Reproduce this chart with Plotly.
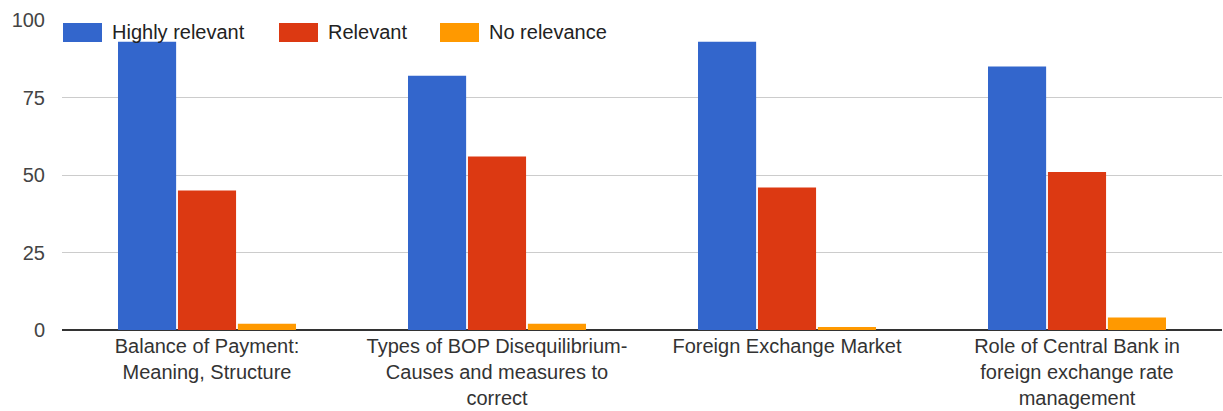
import plotly.graph_objects as go

# Survey topics and response counts
topics = [
    "Balance of Payment:<br>Meaning, Structure",
    "Types of BOP Disequilibrium-<br>Causes and measures to<br>correct",
    "Foreign Exchange Market",
    "Role of Central Bank in<br>foreign exchange rate<br>management",
]
highly_relevant = [93, 82, 93, 85]
relevant = [45, 56, 46, 51]
no_relevance = [2, 2, 1, 4]

series_names = ["Highly relevant", "Relevant", "No relevance"]
series_colors = ["#3366CC", "#DC3912", "#FF9900"]
series_values = [highly_relevant, relevant, no_relevance]

y_ticks = [0, 25, 50, 75, 100]

FONT = "Liberation Sans, Arial, sans-serif"

fig = go.Figure()
for name, color, vals in zip(series_names, series_colors, series_values):
    fig.add_trace(go.Bar(
        x=topics, y=vals, name=name,
        marker=dict(color=color, line=dict(width=0)),
        showlegend=False,
    ))

# Legend drawn as colored swatches with labels across the top
legend_x = [63, 279, 440]
for name, color, lx in zip(series_names, series_colors, legend_x):
    fig.add_shape(type="rect", xref="paper", yref="paper",
                  x0=(lx - 62) / 1160, x1=(lx + 39 - 62) / 1160,
                  y0=(330 - 42) / 310, y1=(330 - 23) / 310,
                  fillcolor=color, line=dict(width=0), layer="above")
    fig.add_annotation(xref="paper", yref="paper",
                       x=(lx + 47 - 62) / 1160, y=(330 - 32.5) / 310,
                       text=name, showarrow=False, xanchor="left", yanchor="middle",
                       font=dict(family=FONT, size=20, color="#222222"),
                       bgcolor="rgba(0,0,0,0)")

fig.update_layout(
    width=1223, height=411,
    margin=dict(l=62, r=1, t=20, b=81),
    paper_bgcolor="white", plot_bgcolor="white",
    barmode="group", bargap=0.38, bargroupgap=0.03,
    font=dict(family=FONT, size=20, color="#333333"),
    xaxis=dict(
        showgrid=False, showline=False, zeroline=False,
        tickfont=dict(family=FONT, size=20, color="#333333"),
        ticks="", ticklabelstandoff=2,
    ),
    yaxis=dict(
        range=[0, 100], tickvals=y_ticks,
        showgrid=True, gridcolor="#CCCCCC", gridwidth=1,
        zeroline=True, zerolinecolor="#333333", zerolinewidth=1.5,
        showline=False, ticks="",
        tickfont=dict(family=FONT, size=20, color="#444444"),
        ticklabelstandoff=16,
    ),
)

fig.write_html("out.html")
